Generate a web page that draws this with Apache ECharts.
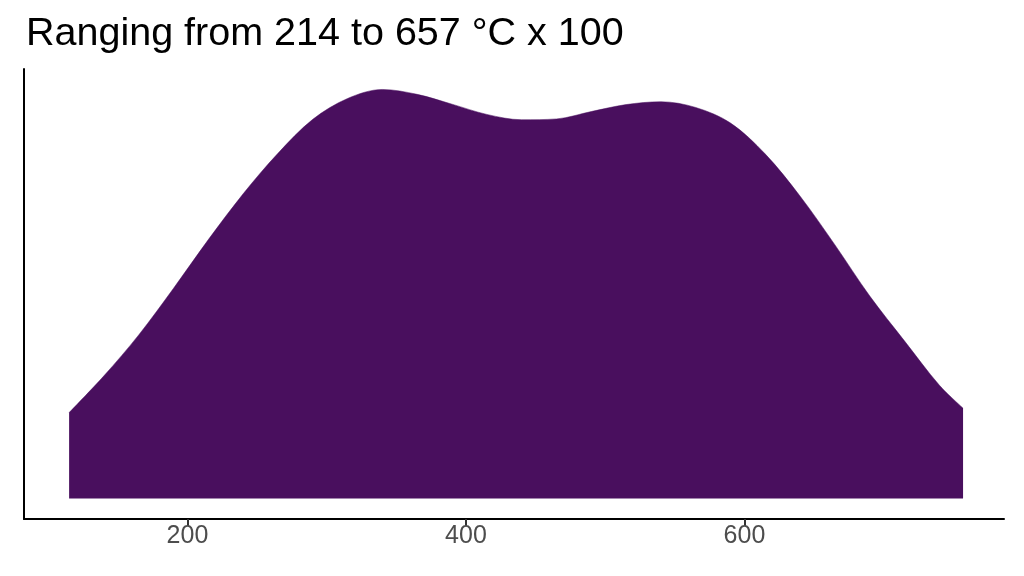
<!DOCTYPE html>
<html>
<head>
<meta charset="utf-8">
<script src="https://cdn.jsdelivr.net/npm/echarts@6/dist/echarts.min.js"></script>
<style>
  html, body { margin: 0; padding: 0; background: #fff; }
  #chart { width: 1024px; height: 576px; }
</style>
</head>
<body>
<div id="chart"></div>
<script>
// density curve (x in the axis units, y scaled so peak = 1)
var xValues = [115, 140, 165, 190, 215, 240, 265, 290, 315, 340, 365, 390, 415, 440,
               465, 490, 515, 540, 565, 590, 615, 640, 665, 690, 715, 740, 757];
var densityValues = [0.210, 0.300, 0.400, 0.514, 0.633, 0.745, 0.844, 0.927, 0.978, 1.000, 0.988, 0.964, 0.939, 0.926,
                     0.928, 0.946, 0.963, 0.970, 0.956, 0.918, 0.842, 0.739, 0.620, 0.495, 0.385, 0.277, 0.221];
var tickValues = [200, 400, 600];
var titleText = 'Ranging from 214 to 657 °C x 100';

var fillColor = '#490F5E';

var seriesData = [];
for (var i = 0; i < xValues.length; i++) {
	seriesData.push([xValues[i], densityValues[i]]);
}

var myChart = echarts.init(document.getElementById('chart'));
var option = {
	animation: false,
	backgroundColor: '#ffffff',
	title: {
		text: titleText,
		left: 21,
		top: 9,
		textStyle: {
			fontFamily: 'Liberation Sans',
			fontWeight: 'normal',
			fontSize: 39.5,
			color: '#000000'
		}
	},
	grid: {
		left: 24,
		right: 20,
		top: 69,
		bottom: 57
	},
	xAxis: {
		type: 'value',
		min: 82.6,
		max: 786.4,
		splitLine: { show: false },
		axisLine: { show: true, onZero: false, lineStyle: { color: '#000000', width: 2 } },
		axisTick: {
			show: true,
			customValues: tickValues,
			length: 7,
			lineStyle: { color: '#333333', width: 2 }
		},
		axisLabel: {
			customValues: tickValues,
			fontFamily: 'Liberation Sans',
			fontSize: 25,
			color: '#4D4D4D',
			margin: 5
		}
	},
	yAxis: {
		type: 'value',
		min: -0.05,
		max: 1.05,
		splitLine: { show: false },
		axisLine: { show: true, lineStyle: { color: '#000000', width: 2 } },
		axisTick: { show: false },
		axisLabel: { show: false }
	},
	series: [
		{
			type: 'line',
			data: seriesData,
			smooth: 0.33,
			showSymbol: false,
			lineStyle: { color: fillColor, width: 0.5 },
			itemStyle: { color: fillColor },
			areaStyle: { color: fillColor, opacity: 1, origin: 0 }
		}
	]
};
myChart.setOption(option, true);
</script>
</body>
</html>
